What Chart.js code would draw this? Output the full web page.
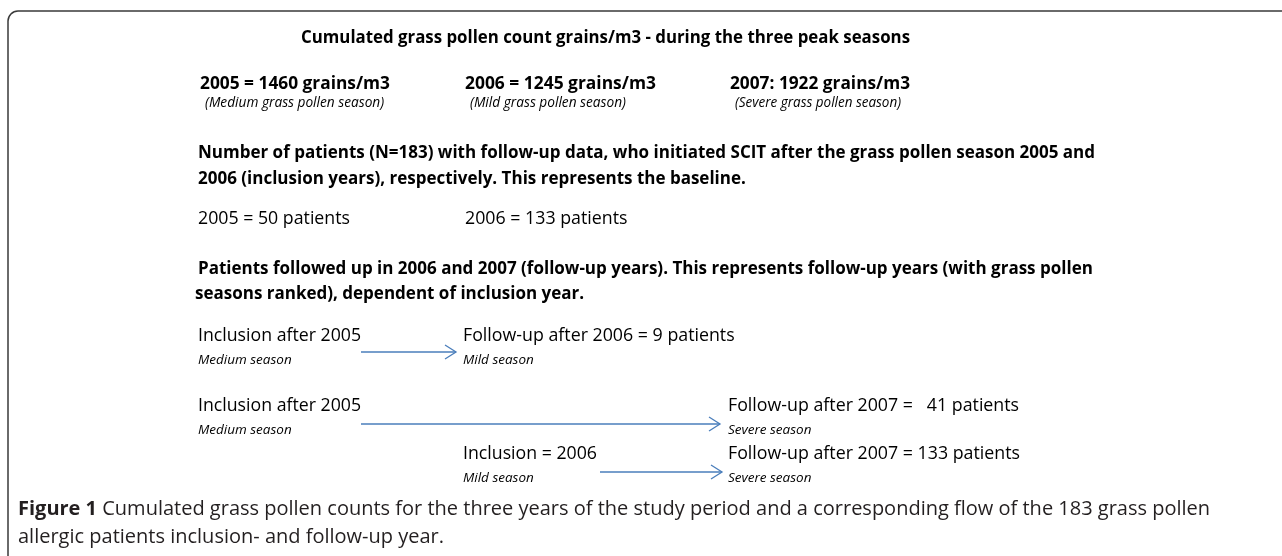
<!DOCTYPE html>
<html lang="en">
<head>
    <meta charset="UTF-8" />
    <title>Grass pollen seasons and patient flow</title>
    <script src="https://cdn.jsdelivr.net/npm/chart.js"></script>
    <style>
        body { margin: 0; background: #fff; }
        canvas { display: block; }
    </style>
</head>
<body>
    <canvas id="flowChart" width="1282" height="556"></canvas>

    <script>
        // data
        const years = ['2005', '2006', '2007'];
        const pollenCounts = [1460, 1245, 1922];
        const seasonTypes = ['Medium', 'Mild', 'Severe'];
        const inclusionPatients = [50, 133];      // 2005, 2006
        const totalPatients = 183;
        // follow-up flows: inclusion year idx -> follow-up year idx, patients
        const flowFrom = [0, 0, 1];
        const flowTo = [1, 2, 2];
        const flowPatients = [9, 41, 133];

        const textColor = '#000';
        const arrowColor = '#4a7ebb';
        const sans = '"Open Sans", Lato, sans-serif';

        // layout (pixels)
        const colX = [198, 463, 728];
        const rowY = [341, 411, 459];
        const arrowY = [352, 424, 472];
        const arrowX0 = [361, 361, 600];
        const arrowX1 = [456, 720, 722];

        const arrowSets = flowFrom.map((f, i) => ({
            type: 'line',
            data: [{ x: arrowX0[i], y: arrowY[i] }, { x: arrowX1[i], y: arrowY[i] }],
            borderColor: arrowColor,
            borderWidth: 1.3,
            pointRadius: 0,
            fill: false
        }));

        function txt(ctx, s, x, y, font, maxW, color) {
            ctx.font = font;
            ctx.fillStyle = color || textColor;
            if (maxW) ctx.fillText(s, x, y, maxW);
            else ctx.fillText(s, x, y);
        }

        const diagramPlugin = {
            id: 'diagram',
            afterDatasetsDraw(chart) {
                const ctx = chart.ctx;
                const xs = chart.scales.x, ys = chart.scales.y;
                ctx.save();

                // frame
                ctx.strokeStyle = '#3a3a3a';
                ctx.lineWidth = 1.5;
                ctx.beginPath();
                ctx.roundRect(8, 11, 1300, 580, 10);
                ctx.stroke();

                // arrow heads
                ctx.strokeStyle = arrowColor;
                ctx.lineWidth = 1.3;
                chart.data.datasets.forEach(ds => {
                    const p = ds.data[ds.data.length - 1];
                    const px = xs.getPixelForValue(p.x), py = ys.getPixelForValue(p.y);
                    ctx.beginPath();
                    ctx.moveTo(px - 11, py - 7);
                    ctx.lineTo(px, py);
                    ctx.lineTo(px - 11, py + 7);
                    ctx.stroke();
                });

                ctx.textBaseline = 'alphabetic';
                ctx.textAlign = 'left';
                const bold = (s) => 'bold ' + s + 'px ' + sans;
                const reg = (s) => s + 'px ' + sans;
                const ital = (s) => 'italic ' + s + 'px ' + sans;

                txt(ctx, 'Cumulated grass pollen count grains/m3 - during the three peak seasons', 301, 43, bold(17), 609);

                const sep = [' = ', ' = ', ': '];
                years.forEach((yr, i) => {
                    txt(ctx, yr + sep[i] + pollenCounts[i] + ' grains/m3', colX[i] + 2, 89, bold(18), [190, 191, 180][i]);
                    const lab = '(' + seasonTypes[i] + ' grass pollen season)';
                    txt(ctx, lab, colX[i] + 7, 107, ital(13.7), [180, 156, 166][i]);
                });

                txt(ctx, 'Number of patients (N=' + totalPatients + ') with follow-up data, who initiated SCIT after the grass pollen season 2005 and',
                    198, 158, bold(17), 898);
                txt(ctx, '2006 (inclusion years), respectively. This represents the baseline.', 198, 184, bold(17));

                inclusionPatients.forEach((n, i) => {
                    txt(ctx, years[i] + ' = ' + n + ' patients', colX[i] + (i ? 2 : 0), 224, reg(17.8), i ? 163 : 152);
                });

                txt(ctx, 'Patients followed up in 2006 and 2007 (follow-up years). This represents follow-up years (with grass pollen',
                    198, 274, bold(17), 909);
                txt(ctx, 'seasons ranked), dependent of inclusion year.', 195, 299, bold(17));

                flowFrom.forEach((f, i) => {
                    const t = flowTo[i];
                    const y = rowY[i];
                    const incl = i === 2 ? 'Inclusion = ' + years[f] : 'Inclusion after ' + years[f];
                    txt(ctx, incl, colX[f], y, reg(17.8), i === 2 ? 134 : 163);
                    txt(ctx, seasonTypes[f] + ' season', colX[f], y + 23, ital(13.5), seasonTypes[f] === 'Medium' ? 94 : 71);
                    const eq = i === 1 ? ' =   ' : ' = ';
                    const fw = [273, 292, 294][i];
                    txt(ctx, 'Follow-up after ' + years[t] + eq + flowPatients[i] + ' patients', colX[t], y, reg(17.8), fw);
                    txt(ctx, seasonTypes[t] + ' season', colX[t], y + 23, ital(13.5), seasonTypes[t] === 'Mild' ? 71 : 84);
                });

                // caption
                const capFont = '"Open Sans", sans-serif';
                const capColor = '#231f20';
                ctx.font = 'bold 20px ' + capFont;
                const fig = 'Figure 1';
                const rest = ' Cumulated grass pollen counts for the three years of the study period and a corresponding flow of the 183 grass pollen';
                const figW = ctx.measureText(fig).width;
                ctx.font = '20px ' + capFont;
                const restW = ctx.measureText(rest).width;
                const k = Math.min(1, 1210 / (figW + restW));
                txt(ctx, fig, 18, 515, 'bold 20px ' + capFont, figW * k, capColor);
                txt(ctx, rest, 18 + figW * k, 515, '20px ' + capFont, restW * k, capColor);
                txt(ctx, 'allergic patients inclusion- and follow-up year.', 18, 543, '20px ' + capFont, null, capColor);

                ctx.restore();
            }
        };

        new Chart(document.getElementById('flowChart'), {
            type: 'scatter',
            data: { datasets: arrowSets },
            options: {
                responsive: false,
                animation: false,
                layout: { padding: 0 },
                plugins: { legend: { display: false }, tooltip: { enabled: false } },
                scales: {
                    x: { type: 'linear', min: 0, max: 1282, display: false },
                    y: { type: 'linear', min: 0, max: 556, reverse: true, display: false }
                }
            },
            plugins: [diagramPlugin]
        });
    </script>
</body>
</html>
